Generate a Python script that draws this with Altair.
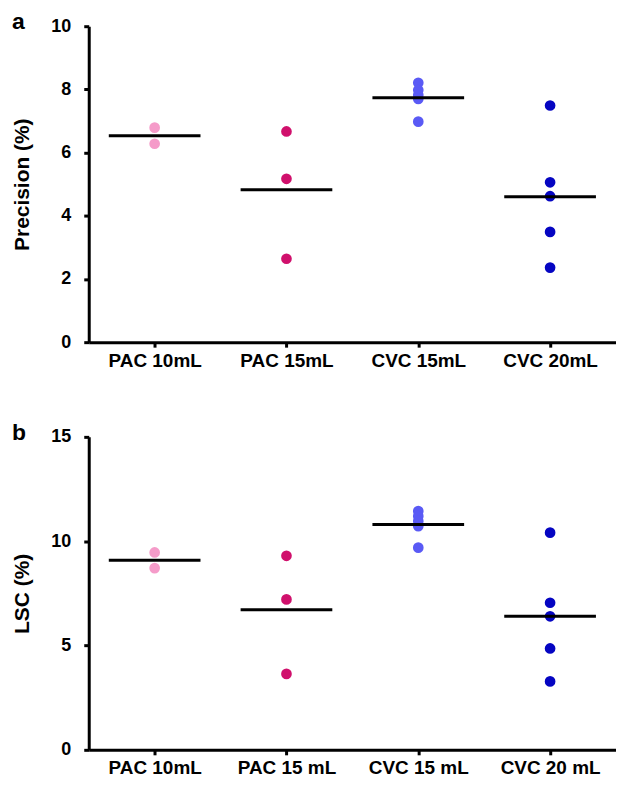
import altair as alt
import pandas as pd

keys = ["p10", "p15", "c15", "c20"]
labels_a = ["PAC 10mL", "PAC 15mL", "CVC 15mL", "CVC 20mL"]
labels_b = ["PAC 10mL", "PAC 15 mL", "CVC 15 mL", "CVC 20 mL"]
colors = ["#F59BC9", "#D0106C", "#5A5AF5", "#0505C2"]

precision_p10 = [6.79, 6.28]
precision_p15 = [6.67, 5.17, 2.64]
precision_c15 = [8.21, 7.98, 7.82, 7.70, 6.98]
precision_c20 = [7.49, 5.06, 4.62, 3.49, 2.36]

lsc_p10 = [9.46, 8.71]
lsc_p15 = [9.30, 7.21, 3.64]
lsc_c15 = [11.44, 11.20, 10.96, 10.72, 9.69]
lsc_c20 = [10.41, 7.05, 6.40, 4.86, 3.28]

FONT = "Liberation Sans"


def frame(labels, series):
    rows = []
    for k, lab, vals in zip(keys, labels, series):
        for v in vals:
            rows.append({"key": k, "group": lab, "value": v})
    return pd.DataFrame(rows)


df_a = frame(labels_a, [precision_p10, precision_p15, precision_c15, precision_c20])
df_b = frame(labels_b, [lsc_p10, lsc_p15, lsc_c15, lsc_c20])


def panel(df, labels, ytitle, ymax, ystep, letter, w, h):
    x = alt.X("group:N", sort=labels, title=None,
              scale=alt.Scale(type="point", padding=0.5),
              axis=alt.Axis(labelAngle=0, labelPadding=4))
    y = alt.Y("value:Q", title=ytitle,
              scale=alt.Scale(domain=[0, ymax], nice=False, zero=True),
              axis=alt.Axis(values=list(range(0, ymax + 1, ystep)), labelPadding=13,
                            titlePadding=18))
    pts = alt.Chart(df).mark_circle(size=115, opacity=1).encode(
        x=x, y=y,
        color=alt.Color("key:N", scale=alt.Scale(domain=keys, range=colors), legend=None),
    )
    mean = alt.Chart(df).mark_tick(color="black", thickness=3, size=92).encode(
        x=alt.X("group:N", sort=labels),
        y=alt.Y("mean(value):Q"),
    )
    return alt.layer(pts, mean).properties(
        width=w, height=h,
        title=alt.TitleParams(letter, anchor="start", frame="bounds", fontSize=23,
                              font=FONT, fontWeight="bold", offset=-17, color="black"),
    )


a = panel(df_a, labels_a, "Precision (%)", 10, 2, "a", 529, 317)
b = panel(df_b, labels_b, "LSC (%)", 15, 5, "b", 529, 314)

chart = alt.vconcat(a, b, spacing=52).properties(
    padding={"left": 3, "top": 2, "right": 0, "bottom": 0}
).configure_view(stroke=None).configure_axis(
    grid=False,
    domainColor="black", domainWidth=3,
    tickColor="black", tickWidth=3, tickSize=5,
    labelFont=FONT, labelFontWeight="bold", labelFontSize=18, labelColor="black",
    titleFont=FONT, titleFontWeight="bold", titleFontSize=21, titleColor="black",
).configure_axisX(labelFontSize=19).resolve_scale(color="shared")

chart.save("out.html", embed_options={"renderer": "svg", "actions": False})
